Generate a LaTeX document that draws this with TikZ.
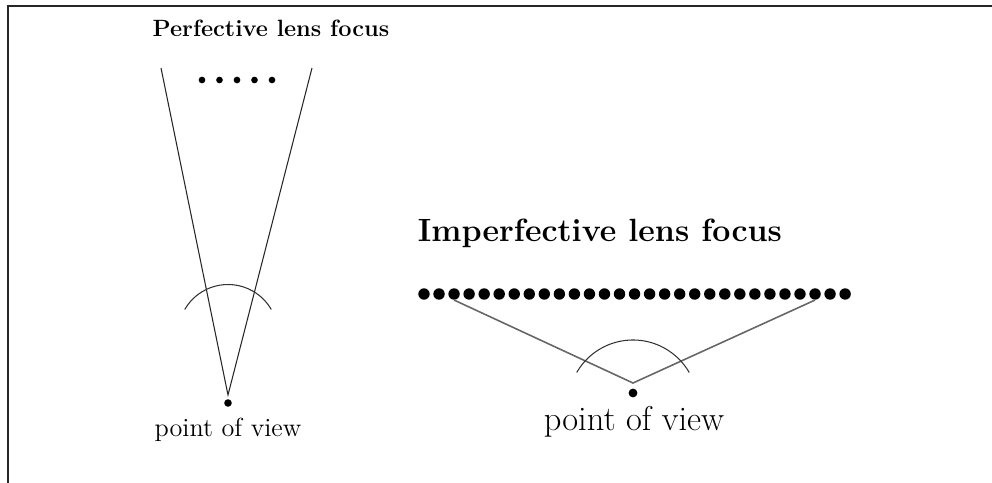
\documentclass[tikz,border=0pt]{standalone}
\usepackage{fontspec}
\usepackage{tikz}

\begin{document}
\begin{tikzpicture}[x=0.02cm, y=-0.02cm,
pdot/.style={circle, fill=black, inner sep=0pt, minimum size=3.8pt},
idot/.style={circle, fill=black, inner sep=0pt, minimum size=6.5pt},
ray/.style={draw=black!85, line width=0.6pt},
iray/.style={draw=black!60, line width=0.9pt},
lens/.style={draw=black!80, line width=0.6pt}]
\useasboundingbox (0,0) rectangle (992,483);
\draw[line width=1.3pt, black!85] (1010,6) -- (8,6) -- (8,520);
% perfective
\node[font=\fontsize{13.4}{15}\selectfont\bfseries, anchor=base] (ptitle) at (271,37) {Perfective lens focus};
\foreach \i in {0,...,4}
  \node[pdot] (p\i) at (202+17.5*\i,80) {};
\coordinate (ptl) at (161,68);
\coordinate (ptr) at (312,68);
\coordinate (papex) at (228,395);
\draw[ray] (ptl) -- (papex) -- (ptr);
\draw[lens] (184.7,309.5) arc[start angle=150, end angle=30, radius=1cm];
\node[pdot, minimum size=4.3pt] (pview) at (228,403) {};
\node[font=\fontsize{14.9}{17}\selectfont, anchor=base] (plabel) at (228,437) {point of view};
% imperfective
\node[font=\fontsize{18.3}{21}\selectfont\bfseries, anchor=base] (ititle) at (600,242) {Imperfective lens focus};
\foreach \i in {0,...,28}
  \node[idot] (i\i) at (424+15.04*\i,294) {};
\coordinate (iapex) at (633,383);
\draw[iray] (i2.south) -- (iapex) -- (i26.south);
\draw[lens] (576.7,372.5) arc[start angle=150, end angle=30, radius=1.3cm];
\node[idot, minimum size=5pt] (iview) at (633,393) {};
\node[font=\fontsize{19.6}{23}\selectfont, anchor=base] (ilabel) at (634,430) {point of view};
\end{tikzpicture}
\end{document}
